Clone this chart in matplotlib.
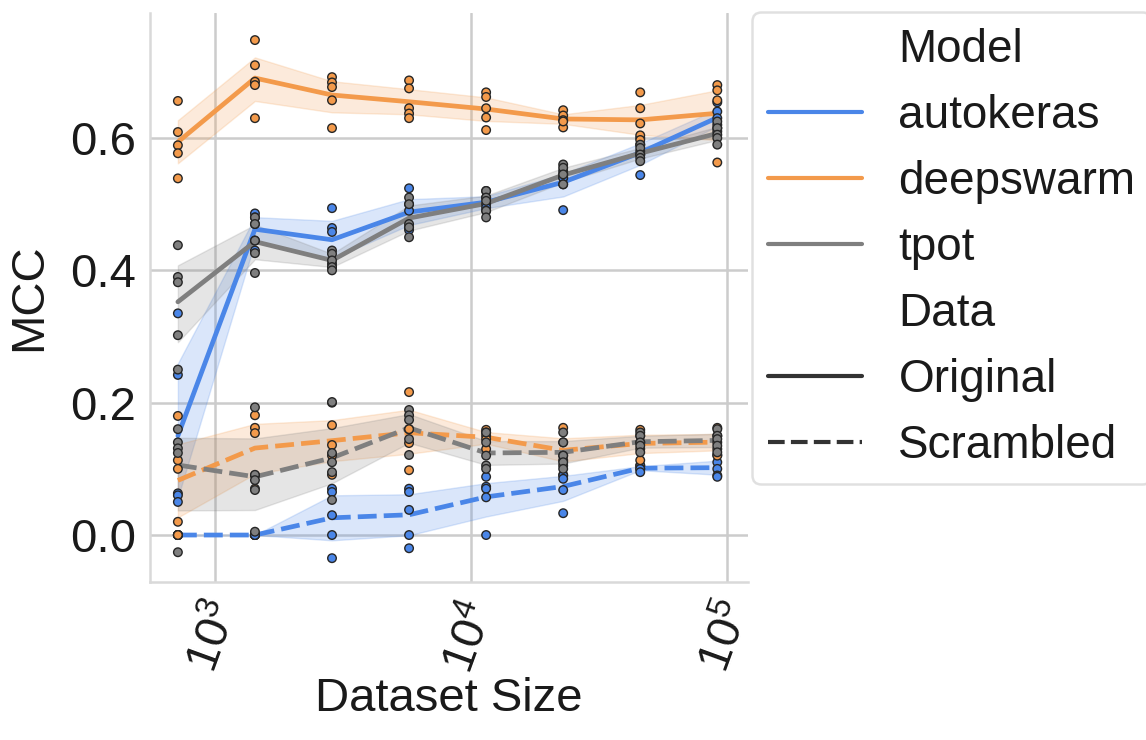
import numpy as np
import pandas as pd
import matplotlib
matplotlib.use("Agg")
import matplotlib.pyplot as plt
import seaborn as sns

# dataset sizes (subsample steps) and MCC of 5 runs per size
sizes = [715, 1430, 2860, 5720, 11440, 22880, 45760, 91520]

autokeras_orig = [[0.335, 0.242, 0.063, 0.060, 0.050],
                  [0.486, 0.480, 0.470, 0.445, 0.430],
                  [0.494, 0.464, 0.458, 0.410, 0.405],
                  [0.524, 0.500, 0.490, 0.465, 0.461],
                  [0.520, 0.510, 0.500, 0.495, 0.490],
                  [0.550, 0.545, 0.540, 0.540, 0.491],
                  [0.600, 0.590, 0.580, 0.575, 0.544],
                  [0.654, 0.640, 0.630, 0.620, 0.610]]
deepswarm_orig = [[0.656, 0.609, 0.589, 0.577, 0.539],
                  [0.748, 0.710, 0.685, 0.680, 0.630],
                  [0.692, 0.684, 0.677, 0.657, 0.615],
                  [0.687, 0.675, 0.645, 0.637, 0.630],
                  [0.669, 0.662, 0.645, 0.631, 0.612],
                  [0.642, 0.634, 0.627, 0.616, 0.625],
                  [0.669, 0.645, 0.622, 0.604, 0.597],
                  [0.680, 0.672, 0.657, 0.615, 0.563]]
tpot_orig = [[0.438, 0.390, 0.382, 0.302, 0.250],
             [0.480, 0.470, 0.445, 0.426, 0.396],
             [0.430, 0.425, 0.415, 0.405, 0.400],
             [0.510, 0.500, 0.470, 0.450, 0.465],
             [0.520, 0.510, 0.505, 0.490, 0.480],
             [0.560, 0.555, 0.545, 0.530, 0.530],
             [0.590, 0.585, 0.575, 0.570, 0.565],
             [0.625, 0.615, 0.605, 0.600, 0.590]]
autokeras_scr = [[0.0, 0.0, 0.0, 0.0, 0.0],
                 [0.0, 0.0, 0.0, 0.0, 0.0],
                 [-0.035, 0.0, 0.030, 0.070, 0.065],
                 [-0.020, 0.0, 0.038, 0.070, 0.065],
                 [0.088, 0.073, 0.070, 0.057, 0.0],
                 [0.091, 0.090, 0.085, 0.068, 0.033],
                 [0.105, 0.105, 0.100, 0.100, 0.095],
                 [0.121, 0.110, 0.100, 0.090, 0.088]]
deepswarm_scr = [[0.180, 0.113, 0.100, 0.020, 0.0],
                 [0.181, 0.162, 0.154, 0.090, 0.070],
                 [0.200, 0.166, 0.136, 0.120, 0.091],
                 [0.216, 0.160, 0.160, 0.139, 0.098],
                 [0.159, 0.155, 0.150, 0.145, 0.130],
                 [0.162, 0.140, 0.120, 0.113, 0.105],
                 [0.159, 0.150, 0.140, 0.130, 0.113],
                 [0.162, 0.150, 0.140, 0.130, 0.120]]
tpot_scr = [[0.160, 0.140, 0.131, 0.124, -0.026],
            [0.193, 0.091, 0.083, 0.068, 0.005],
            [0.201, 0.124, 0.110, 0.095, 0.053],
            [0.189, 0.181, 0.174, 0.145, 0.121],
            [0.155, 0.140, 0.120, 0.105, 0.100],
            [0.155, 0.140, 0.120, 0.110, 0.100],
            [0.155, 0.150, 0.140, 0.135, 0.125],
            [0.160, 0.150, 0.145, 0.135, 0.125]]

models = ["autokeras", "deepswarm", "tpot"]
colors = {"autokeras": "#4a86e8", "deepswarm": "#f39a4b", "tpot": "#7f7f7f"}

runs = {("autokeras", "Original"): autokeras_orig,
        ("deepswarm", "Original"): deepswarm_orig,
        ("tpot", "Original"): tpot_orig,
        ("autokeras", "Scrambled"): autokeras_scr,
        ("deepswarm", "Scrambled"): deepswarm_scr,
        ("tpot", "Scrambled"): tpot_scr}

rows = []
for (model, kind), table in runs.items():
    for size, vals in zip(sizes, table):
        for v in vals:
            rows.append({"Dataset Size": size, "MCC": v, "Model": model, "Data": kind})
df = pd.DataFrame(rows)

sns.set_theme(style="whitegrid")
plt.rcParams["font.family"] = ["Liberation Sans", "DejaVu Sans"]
plt.rcParams["grid.linewidth"] = 1.8
plt.rcParams["axes.edgecolor"] = "0.85"
plt.rcParams["axes.linewidth"] = 1.8
plt.rcParams["text.color"] = "0.1"
plt.rcParams["axes.labelcolor"] = "0.1"
plt.rcParams["xtick.color"] = "0.1"
plt.rcParams["ytick.color"] = "0.1"
FS = 34

fig = plt.figure(figsize=(11.46, 7.40), dpi=100)
ax = fig.add_axes([0.131, 0.2135, 0.522, 0.769])

sns.lineplot(data=df, x="Dataset Size", y="MCC", hue="Model", style="Data",
             hue_order=models, style_order=["Original", "Scrambled"],
             palette=colors, linewidth=3.4, seed=3, ax=ax)
sns.scatterplot(data=df, x="Dataset Size", y="MCC", hue="Model", hue_order=models,
                palette=colors, s=38, edgecolor="0.15", linewidth=1.0,
                legend=False, zorder=3, ax=ax)

ax.set_xscale("log")
ax.set_xlim(557, 121000)
ax.set_ylim(-0.071, 0.789)
ax.set_yticks([0.0, 0.2, 0.4, 0.6])
ax.set_yticklabels(["0.0", "0.2", "0.4", "0.6"])
ax.minorticks_off()
ax.tick_params(axis="both", labelsize=FS, length=0, pad=10)
for lab in ax.get_xticklabels():
    lab.set_rotation(70)
ax.set_xlabel("Dataset Size", fontsize=FS, labelpad=-2)
ax.set_ylabel("MCC", fontsize=FS, labelpad=14)
sns.despine(ax=ax, top=True, right=True)

handles, labels = ax.get_legend_handles_labels()
ax.get_legend().remove()
leg = fig.legend(handles, labels, loc="upper left", bbox_to_anchor=(0.656, 0.984),
                 fontsize=33, frameon=True, labelspacing=0.48, handlelength=2.05,
                 borderaxespad=0, borderpad=0.35)
leg.get_frame().set_edgecolor("0.85")
leg.get_frame().set_linewidth(1.8)
for line in leg.get_lines():
    line.set_linewidth(3.0)

fig.savefig("out.png", dpi=100)
